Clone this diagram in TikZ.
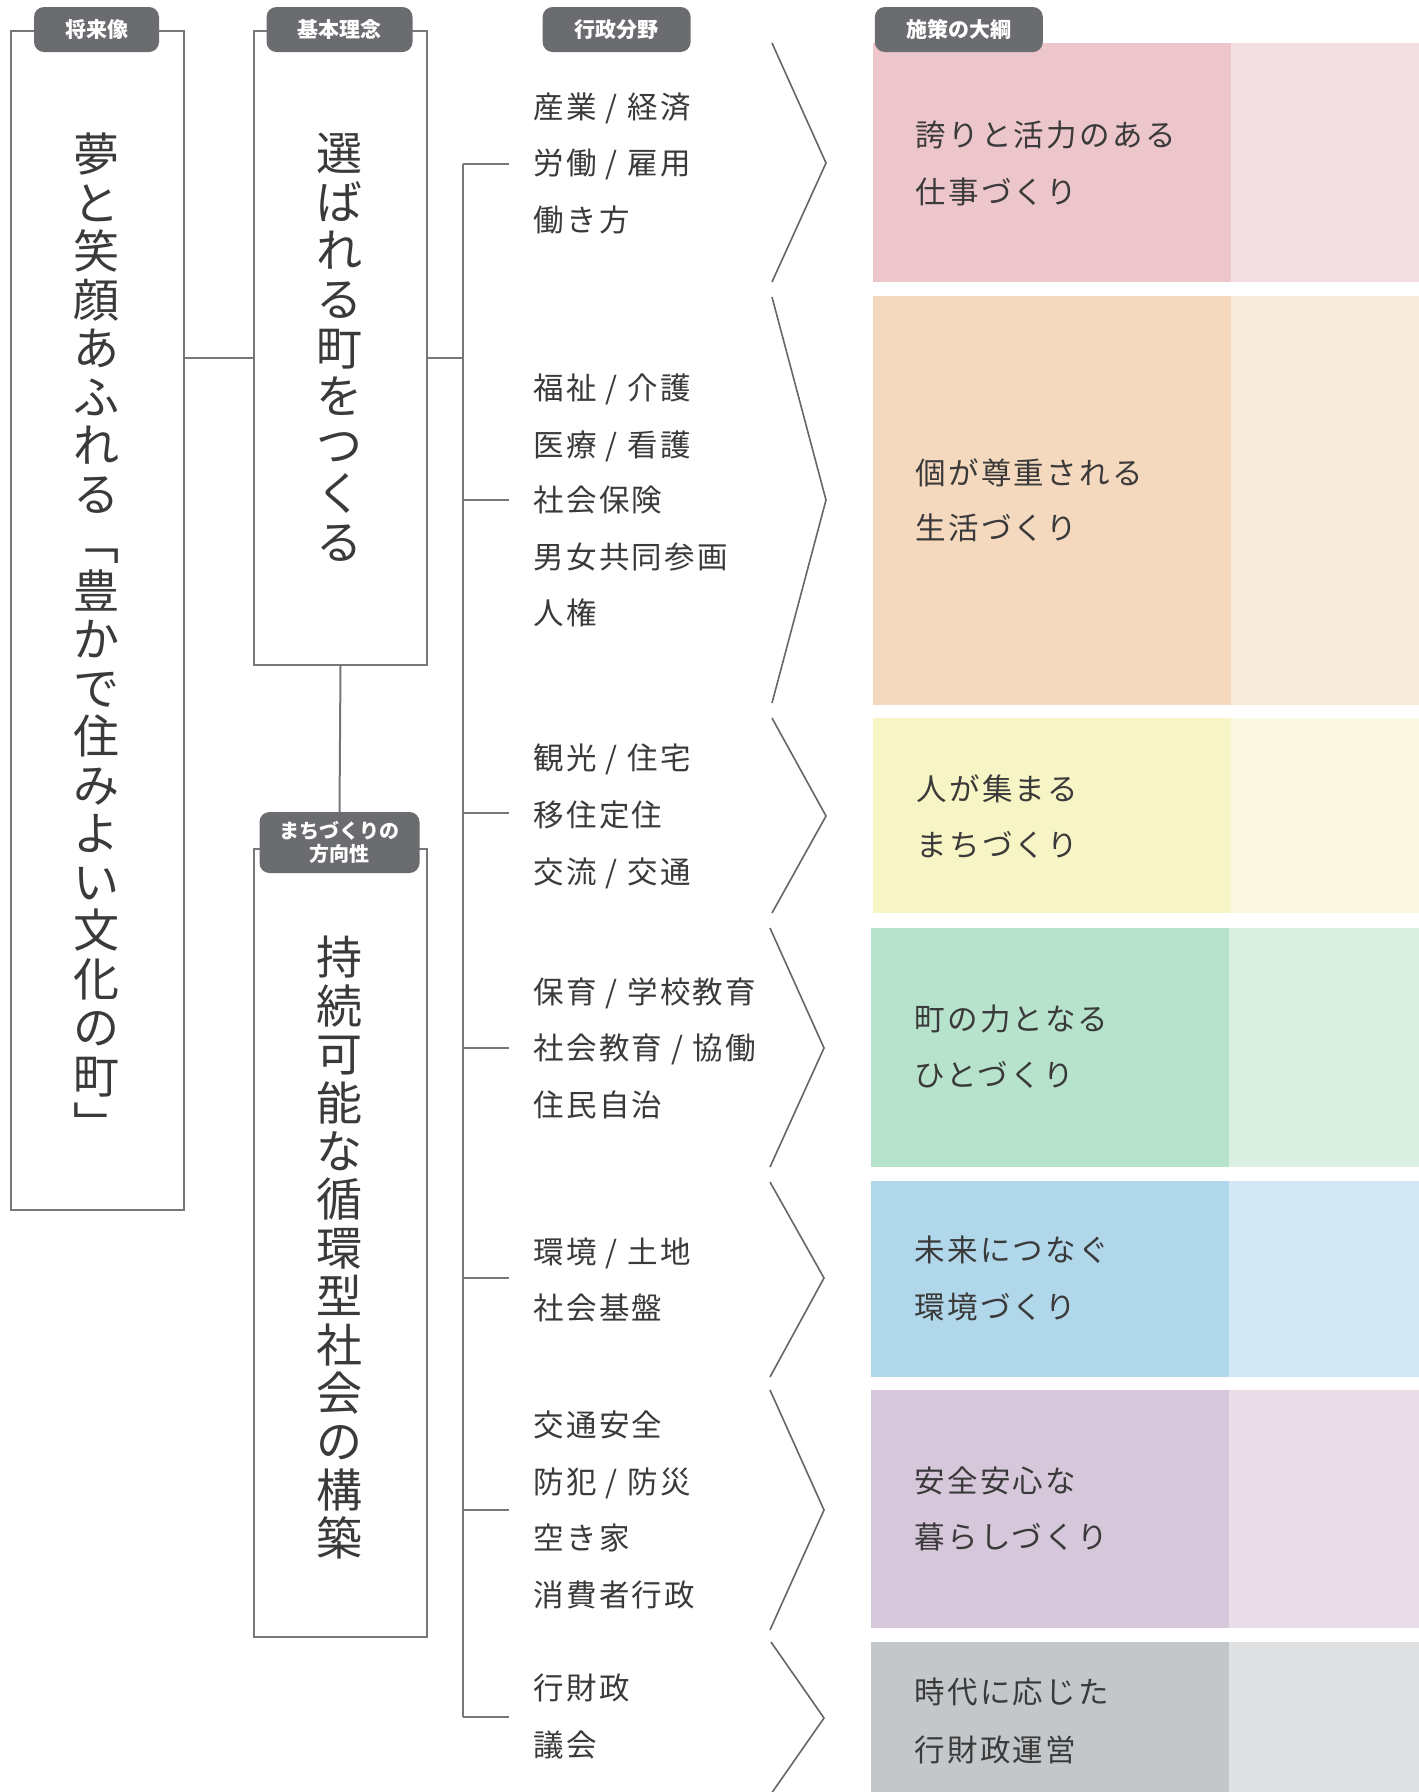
\documentclass[tikz,border=0pt]{standalone}
\usepackage{fontspec}
\newfontfamily\jp{Noto Sans CJK JP}
\newfontfamily\jpt[LetterSpace=8]{Noto Sans CJK JP}
\definecolor{ln}{HTML}{77777B}
\definecolor{chev}{HTML}{66666A}
\definecolor{tabc}{HTML}{6B6C70}
\definecolor{txt}{HTML}{3A3A3A}
\definecolor{pinkD}{HTML}{EDC6CC}
\definecolor{pinkL}{HTML}{F4DFE2}
\definecolor{oranD}{HTML}{F4D9BF}
\definecolor{oranL}{HTML}{F8EADB}
\definecolor{yellD}{HTML}{F7F5C5}
\definecolor{yellL}{HTML}{FAF8E2}
\definecolor{grenD}{HTML}{B7E3CD}
\definecolor{grenL}{HTML}{D9EFE2}
\definecolor{bluD}{HTML}{B1D7EA}
\definecolor{bluL}{HTML}{D4E8F3}
\definecolor{purD}{HTML}{D7C7DA}
\definecolor{purL}{HTML}{E9DEE8}
\definecolor{gryD}{HTML}{C4C7CA}
\definecolor{gryL}{HTML}{DFE0E2}
\begin{document}
\begin{tikzpicture}[x=1pt,y=-1pt,
  frame/.style={draw=ln,line width=2pt,fill=white,inner sep=0pt,anchor=north west},
  tab/.style={fill=tabc,rounded corners=10pt,text=white,inner sep=0pt,minimum height=45pt,font=\jp\bfseries\fontsize{21}{24}\selectfont,align=center},
  vtxt/.style={anchor=north,inner sep=0pt,align=center,text=txt},
  field/.style={anchor=base west,inner sep=0pt,text=txt,font=\jpt\fontsize{30.5}{36}\selectfont},
  outl/.style={anchor=base west,inner sep=0pt,text=txt,font=\jpt\fontsize{30.5}{36}\selectfont},
  band/.style={inner sep=0pt,anchor=north west,draw=none},
  conn/.style={draw=ln,line width=2pt},
  chevron/.style={draw=chev,line width=1.6pt,line join=miter}
]
\useasboundingbox (0,0) rectangle (1419,1792);
\fill[white] (0,0) rectangle (1419,1792);

% colour bands
\node[band,fill=pinkD,minimum width=358pt,minimum height=239pt] (p1) at (873,43) {};
\node[band,fill=pinkL,minimum width=188pt,minimum height=239pt] (p1l) at (1231,43) {};
\node[band,fill=oranD,minimum width=358pt,minimum height=409pt] (p2) at (873,296) {};
\node[band,fill=oranL,minimum width=188pt,minimum height=409pt] (p2l) at (1231,296) {};
\node[band,fill=yellD,minimum width=358pt,minimum height=195pt] (p3) at (873,718) {};
\node[band,fill=yellL,minimum width=188pt,minimum height=195pt] (p3l) at (1231,718) {};
\node[band,fill=grenD,minimum width=358pt,minimum height=239pt] (p4) at (871,928) {};
\node[band,fill=grenL,minimum width=190pt,minimum height=239pt] (p4l) at (1229,928) {};
\node[band,fill=bluD,minimum width=358pt,minimum height=196pt] (p5) at (871,1181) {};
\node[band,fill=bluL,minimum width=190pt,minimum height=196pt] (p5l) at (1229,1181) {};
\node[band,fill=purD,minimum width=358pt,minimum height=238pt] (p6) at (871,1390) {};
\node[band,fill=purL,minimum width=190pt,minimum height=238pt] (p6l) at (1229,1390) {};
\node[band,fill=gryD,minimum width=358pt,minimum height=150pt] (p7) at (871,1642) {};
\node[band,fill=gryL,minimum width=190pt,minimum height=150pt] (p7l) at (1229,1642) {};

% chevrons
\draw[chevron] (772,43) -- (826,163) -- (772,282);
\draw[chevron] (772,297) -- (826,500) -- (772,703);
\draw[chevron] (772,718) -- (826,816) -- (772,913);
\draw[chevron] (770,928) -- (824,1048) -- (770,1167);
\draw[chevron] (770,1182) -- (824,1278) -- (770,1377);
\draw[chevron] (770,1390) -- (824,1510) -- (770,1630);
\draw[chevron] (771,1642) -- (824,1718) -- (771,1794);

% frames
\node[frame,minimum width=173pt,minimum height=1179pt] (vision) at (10,30) {};
\node[frame,minimum width=173pt,minimum height=634pt] (idea) at (253,30) {};
\node[frame,minimum width=173pt,minimum height=788pt] (dir) at (253,848) {};

% connectors
\coordinate (j1) at (218,358);
\coordinate (trTop) at (463,164);
\coordinate (trBot) at (463,1717);
\coordinate (br1) at (509,164);
\coordinate (br2) at (509,500);
\coordinate (br3) at (509,813);
\coordinate (br4) at (509,1048);
\coordinate (br5) at (509,1278);
\coordinate (br6) at (509,1510);
\coordinate (br7) at (509,1717);
\draw[conn] (j1 -| vision.east) -- (j1 -| idea.west);
\draw[conn] (j1 -| idea.east) -- (j1 -| trTop);
\draw[conn] (trTop) -- (trBot);
\foreach \b in {br1,br2,br3,br4,br5,br6,br7} \draw[conn] (\b -| trTop) -- (\b);

% tabs
\node[tab,minimum width=125pt] (t1) at (96.5,29.5) {将来像};
\node[tab,minimum width=146pt] (t2) at (339.5,29.5) {基本理念};
\node[tab,minimum width=148pt] (t3) at (616.6,29.5) {行政分野};
\node[tab,minimum width=168pt] (t4) at (958.8,29.5) {施策の大綱};
\node[tab,minimum width=160pt,minimum height=61pt,font=\jp\bfseries\fontsize{20}{23}\selectfont] (t5) at (339.5,842.5) {まちづくりの\\方向性};
\draw[conn] (idea.south) -- (t5.north);

% vertical texts
\node[vtxt,font=\jp\fontsize{46}{48.5}\selectfont] (vtext1) at (96.5,133)
 {夢\\と\\笑\\顔\\あ\\ふ\\れ\\る\\﹁\\豊\\か\\で\\住\\み\\よ\\い\\文\\化\\の\\町\\﹂};
\node[vtxt,font=\jp\fontsize{46}{48.6}\selectfont] (vtext2) at (339.5,133)
 {選\\ば\\れ\\る\\町\\を\\つ\\く\\る};
\node[vtxt,font=\jp\fontsize{46}{48.4}\selectfont] (vtext3) at (339.5,936)
 {持\\続\\可\\能\\な\\循\\環\\型\\社\\会\\の\\構\\築};

% field texts
\node[field] (f1a) at (533,118.6) {産業 / 経済};
\node[field] (f1b) at (533,174.6) {労働 / 雇用};
\node[field] (f1c) at (533,231.6) {働き方};
\node[field] (f2a) at (533,399.6) {福祉 / 介護};
\node[field] (f2b) at (533,456.6) {医療 / 看護};
\node[field] (f2c) at (533,511.6) {社会保険};
\node[field] (f2d) at (533,568.6) {男女共同参画};
\node[field] (f2e) at (533,624.6) {人権};
\node[field] (f3a) at (533,769.6) {観光 / 住宅};
\node[field] (f3b) at (533,826.6) {移住定住};
\node[field] (f3c) at (533,883.6) {交流 / 交通};
\node[field] (f4a) at (533,1003.6) {保育 / 学校教育};
\node[field] (f4b) at (533,1059.6) {社会教育 / 協働};
\node[field] (f4c) at (533,1116.6) {住民自治};
\node[field] (f5a) at (533,1263.6) {環境 / 土地};
\node[field] (f5b) at (533,1319.6) {社会基盤};
\node[field] (f6a) at (533,1436.6) {交通安全};
\node[field] (f6b) at (533,1493.6) {防犯 / 防災};
\node[field] (f6c) at (533,1549.6) {空き家};
\node[field] (f6d) at (533,1606.6) {消費者行政};
\node[field] (f7a) at (533,1699.6) {行財政};
\node[field] (f7b) at (533,1756.6) {議会};

% outline texts
\node[outl] (o1a) at (915,146.6) {誇りと活力のある};
\node[outl] (o1b) at (915,203.6) {仕事づくり};
\node[outl] (o2a) at (915,484.6) {個が尊重される};
\node[outl] (o2b) at (915,539.6) {生活づくり};
\node[outl] (o3a) at (916,800.6) {人が集まる};
\node[outl] (o3b) at (916,856.6) {まちづくり};
\node[outl] (o4a) at (914,1030.6) {町の力となる};
\node[outl] (o4b) at (914,1086.6) {ひとづくり};
\node[outl] (o5a) at (914,1261.6) {未来につなぐ};
\node[outl] (o5b) at (914,1318.6) {環境づくり};
\node[outl] (o6a) at (914,1492.6) {安全安心な};
\node[outl] (o6b) at (914,1548.6) {暮らしづくり};
\node[outl] (o7a) at (914,1703.6) {時代に応じた};
\node[outl] (o7b) at (914,1761.6) {行財政運営};
\end{tikzpicture}
\end{document}
